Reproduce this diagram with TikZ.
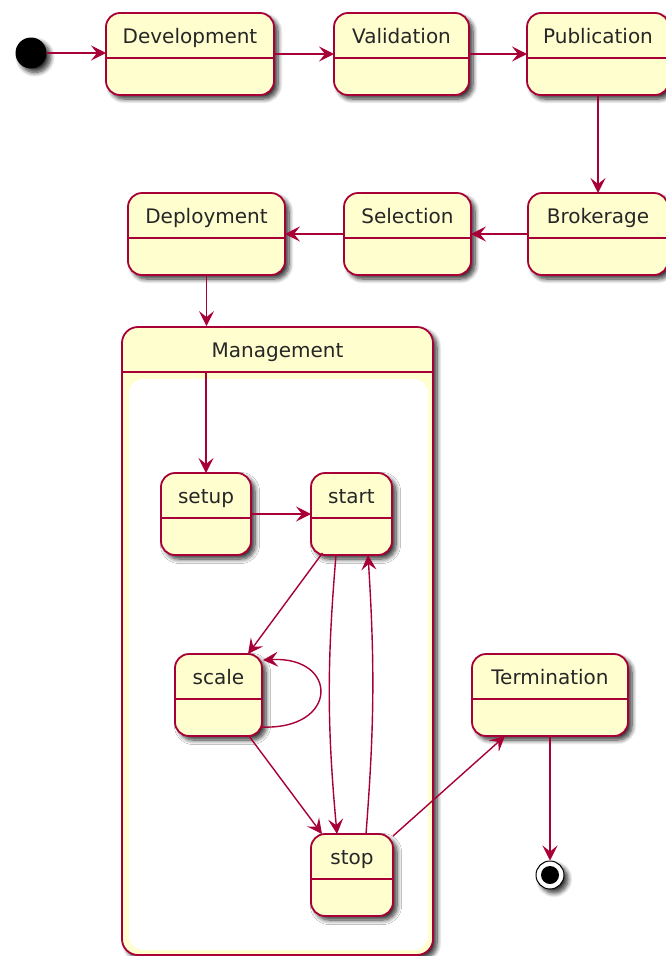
\documentclass[tikz,border=0pt]{standalone}
\usepackage{fontspec}
\setmainfont{DejaVu Sans}
\usetikzlibrary{arrows.meta,shadows.blur,calc}
\definecolor{umlborder}{HTML}{A80036}
\definecolor{umlfill}{HTML}{FEFECE}
\tikzset{
  castshadow/.style={blur shadow={shadow xshift=4pt,shadow yshift=-4pt,shadow blur radius=4.5pt,shadow blur steps=8,shadow opacity=80}},
  statebox/.style={draw=umlborder, line width=1.8pt, fill=umlfill, rounded corners=14pt,
    minimum height=82pt, inner sep=0pt, outer sep=0pt, castshadow},
  statetitle/.style={anchor=base, inner sep=0pt, font=\fontsize{20}{24}\selectfont, text=black!85},
  divider/.style={draw=umlborder, line width=1.8pt},
  transition/.style={draw=umlborder, line width=1.4pt, -{Stealth[length=15pt,width=15pt,inset=6pt]}},
}
% state box: name, left, top, right, title
\newcommand\umlstate[5]{%
  \node[statebox, minimum width={#4-#2}] (#1) at ({(#2+#4)/2},{#3+41}) {};
  \draw[divider] ([yshift=-4pt]#1.west) -- ([yshift=-4pt]#1.east);
  \node[statetitle] (#1-title) at ([yshift=11pt]#1.center) {#5};
}
\begin{document}
\begin{tikzpicture}[x=1pt,y=-1pt]
\useasboundingbox (0,0) rectangle (665,956);

% composite state
\node[draw=umlborder, line width=1.8pt, fill=umlfill, rounded corners=16pt,
  minimum width=311pt, minimum height=628pt, inner sep=0pt, castshadow] (mgmt) at (277.5,641) {};
\node[fill=white, rounded corners=14pt, minimum width=299pt, minimum height=571pt, inner sep=0pt] (mgmtbody) at (278.5,664.5) {};
\draw[divider] (mgmt.west |- 0,372) -- (mgmt.east |- 0,372);
\node[statetitle] (mgmt-title) at (277.5,357) {Management};

% pseudo states
\node[circle, fill=black, minimum size=31pt, inner sep=0pt, castshadow] (init) at (31,53) {};
\node[circle, draw=black, line width=1pt, fill=white, minimum size=28pt, inner sep=0pt, castshadow] (final) at (550,875) {};
\node[circle, fill=black, minimum size=18pt, inner sep=0pt] (final-dot) at (final) {};

% states
\umlstate{dev}{106}{13}{274}{Development}
\umlstate{val}{334}{13}{469}{Validation}
\umlstate{pub}{527}{13}{669}{Publication}
\umlstate{brok}{528}{193}{668}{Brokerage}
\umlstate{sel}{344}{193}{471}{Selection}
\umlstate{depl}{128}{193}{285}{Deployment}
\umlstate{setup}{161}{473}{251}{setup}
\umlstate{start}{311}{473}{392}{start}
\umlstate{scale}{175}{654}{262}{scale}
\umlstate{stop}{311}{834}{393}{stop}
\umlstate{term}{472}{654}{628}{Termination}

% transitions
\draw[transition] (init) -- (init -| dev.west);
\draw[transition] (dev) -- (val);
\draw[transition] (val) -- (pub);
\draw[transition] (pub) -- (brok);
\draw[transition] (brok) -- (sel);
\draw[transition] (sel) -- (depl);
\draw[transition] (depl.south) -- (depl.south |- mgmt.north);
\coordinate (mgmt-entry) at (setup.north |- 0,372);
\draw[transition] (mgmt-entry) -- (setup.north);
\draw[transition] (setup) -- (start);
\draw[transition] ([xshift=-29pt,yshift=2pt]start.south) -- ([xshift=29.5pt]scale.north);
\draw[transition] ([xshift=-15.5pt]start.south) to[bend right=5] ([xshift=-15pt]stop.north);
\draw[transition] ([xshift=14pt]stop.north) to[bend right=4] ([xshift=16.5pt]start.south);
\draw[transition] ([yshift=-32pt]scale.east) .. controls (339,730) and (339,656) .. ([xshift=1pt,yshift=35pt]scale.east);
\draw[transition] ([xshift=30.5pt]scale.south) -- ([xshift=-30pt]stop.north);
\draw[transition] ([yshift=-2pt]stop.north east) -- ([xshift=-45pt]term.south);
\draw[transition] (term.south) -- (final.north);
\end{tikzpicture}
\end{document}
